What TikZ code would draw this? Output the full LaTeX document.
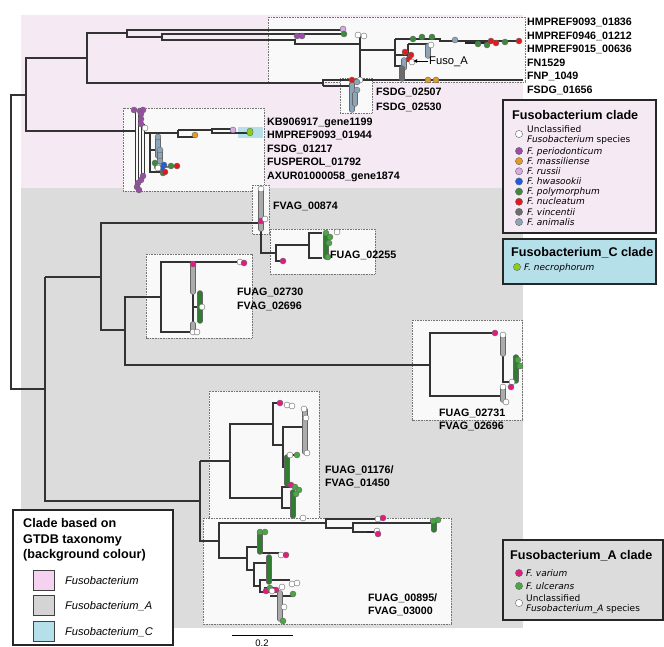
\documentclass[tikz,border=0pt]{standalone}
\usepackage{fontspec}
\setmainfont{Liberation Sans}
\newfontfamily\legfont{DejaVu Sans}
\usetikzlibrary{arrows.meta}
\definecolor{bgpink}{HTML}{F5EAF4}
\definecolor{bggray}{HTML}{DCDCDC}
\definecolor{bgcyan}{HTML}{B5E0EA}
\definecolor{swpink}{HTML}{F5D2EF}
\definecolor{swgray}{HTML}{D4D4D4}
\definecolor{boxfill}{HTML}{F9F9F9}
\definecolor{cperi}{HTML}{9A4DA6}
\definecolor{cmass}{HTML}{E39A22}
\definecolor{cruss}{HTML}{D9AAE4}
\definecolor{chwas}{HTML}{1C5BE6}
\definecolor{cpoly}{HTML}{3B8B3B}
\definecolor{cnucl}{HTML}{E4191C}
\definecolor{cvinc}{HTML}{6C6C6C}
\definecolor{canim}{HTML}{8DA5B8}
\definecolor{cnecr}{HTML}{8CCF1A}
\definecolor{cvari}{HTML}{E41A80}
\definecolor{culce}{HTML}{49A843}
\definecolor{cucol}{HTML}{2F7D2F}
\definecolor{cgrey}{HTML}{ABABAB}

\begin{document}
\begin{tikzpicture}[>=Latex,x=1pt,y=-1pt,
  br/.style={draw=black!80,line width=1.2pt},
  tipdot/.style={draw=black!60,line width=0.4pt},
  colbar/.style={draw=black!60,line width=0.5pt,double=#1,double distance=4.4pt,line cap=round},
  cladebox/.style={draw=black!55,dash pattern=on 1pt off 0.6pt,fill=boxfill,line width=0.7pt},
  legbox/.style={draw=black!85,line width=1.1pt},
  lbl/.style={anchor=west,inner sep=0pt,text height=7.7pt,text depth=0pt,font=\fontsize{10.7}{12}\selectfont\bfseries},
  legtitle/.style={anchor=west,inner sep=0pt,text height=9pt,text depth=0pt,font=\fontsize{12.6}{14}\selectfont\bfseries},
  legitem/.style={anchor=west,inner sep=0pt,text height=6.5pt,text depth=0pt,font=\legfont\fontsize{9}{10}\selectfont},
  gtdbitem/.style={anchor=west,inner sep=0pt,text height=8pt,text depth=0pt,font=\fontsize{11.1}{13}\selectfont\itshape}]
  \useasboundingbox (0,0) rectangle (664,647);
  % background colour of the GTDB clades
  \fill[bgpink] (21,15) rectangle (523,188);
  \fill[bggray] (21,188) rectangle (523,628);
  % collapsed sub-trees
  \foreach \xa/\ya/\xb/\yb in {268/17/525/82, 340/78/372/113, 123/108/264/191, 252/185/269/234,
      270/229/375/274, 146/254/252/338, 412/320/522/420, 209/391/319/518, 203/518/451/624}
    \filldraw[cladebox] (\xa,\ya) rectangle (\xb,\yb);
  \fill[bgcyan] (238,127) rectangle (263,138);

  % backbone
  \draw[br] (26,95) -- (11,95) -- (11,389) -- (45,389);
  \draw[br] (87,58) -- (26,58) -- (26,131) -- (136,131);
  % Fusobacterium part
  \draw[br] (127,33) -- (87,33) -- (87,83) -- (323,83);
  \draw[br] (343,30) -- (127,30) -- (127,37) -- (162,37);
  \draw[br] (343,34) -- (162,34) -- (162,40) -- (295,40) -- (295,44) -- (360,44);
  \draw[br] (323,86) -- (323,80) -- (523,80);
  \draw[br] (323,86) -- (350,86);
  \draw[br] (360,36) -- (360,80);
  \draw[br] (360,50) -- (395,50);
  \draw[br] (395,39) -- (395,66) -- (402,66);
  \draw[br] (395,39) -- (440,39) -- (440,41) -- (520,41);
  \draw[br] (395,55) -- (408,55);
  \draw[br] (408,44) -- (408,62);
  \draw[br] (408,44) -- (428,44);
  \draw[black!85,line width=2.2pt] (465,43) -- (492,43);
  \foreach \x/\ya/\yb in {135/111/188, 138/115/185, 141/119/181, 144/124/176}
    \draw[br,line width=0.9pt] (\x,\ya) -- (\x,\yb);
  \draw[br] (144,133) -- (178,133);
  \draw[br] (178,130) -- (178,137) -- (194,137);
  \draw[br] (178,130) -- (212,130);
  \draw[br] (233,129) -- (212,129) -- (212,133) -- (249,133);
  \draw[br] (150,133) -- (150,172) -- (165,172);
  \draw[br] (150,150) -- (158,150);
  \draw[br] (155,163) -- (155,168) -- (178,166);
  % Fusobacterium_A part
  \draw[br] (45,277) -- (45,501) -- (200,501);
  \draw[br] (45,277) -- (101,277);
  \draw[br] (259,223) -- (101,223) -- (101,330) -- (125,330);
  \draw[br] (161,297) -- (125,297) -- (125,365) -- (430,365);
  \draw[br] (238,262) -- (161,262) -- (161,332) -- (191,332);
  \draw[br] (193,293) -- (193,322);
  \draw[br] (193,307) -- (200,307);
  \draw[br] (261,231) -- (261,253) -- (276,253);
  \draw[br] (282,261) -- (276,261) -- (276,245) -- (309,245);
  \draw[br] (322,233) -- (309,233) -- (309,258) -- (322,258);
  \draw[br] (493,333) -- (430,333) -- (430,396) -- (500,396);
  \draw[br] (503,354) -- (503,382) -- (512,382);
  \draw[br] (273,424) -- (230,424) -- (230,498) -- (282,498);
  \draw[br] (200,461) -- (230,461);
  \draw[br] (200,461) -- (200,541) -- (219,541);
  \draw[br] (279,403) -- (273,403) -- (273,445) -- (283,445);
  \draw[br] (302,427) -- (283,427) -- (283,467) -- (287,467);
  \draw[br] (290,455) -- (297,455);
  \draw[br] (290,487) -- (282,487) -- (282,508) -- (290,508);
  \draw[br] (326,523) -- (219,523) -- (219,558) -- (247,558);
  \draw[br] (376,519) -- (326,519) -- (326,528) -- (353,528);
  \draw[br] (432,523) -- (353,523) -- (353,532) -- (375,532);
  \draw[black!85,line width=2.2pt] (367,532) -- (374,532);
  \draw[br] (258,547) -- (247,547) -- (247,570) -- (254,570);
  \draw[br] (260,553) -- (279,553);
  \draw[br] (266,563) -- (254,563) -- (254,586) -- (260,586);
  \draw[br] (290,580) -- (260,580) -- (260,592) -- (276,592);
  \draw[br] (264,588) -- (276,588);
  \draw[br] (270,596) -- (293,596);

  % collapsed columns of tips
  \foreach \xa/\ya/\xb/\yb/\c in {428/46/428/56/canim, 404/60/404/68/canim, 402/68/402/79/cvinc,
      352/84/352/110/canim, 355/94/355/104/canim, 158/137/158/156/canim, 160/151/160/162/canim,
      261/191/261/229/cgrey, 193/266/193/292/cgrey, 193/324/193/331/cgrey, 503/336/503/354/cgrey,
      503/389/503/400/cgrey, 305/410/305/452/cgrey, 280/593/280/619/cgrey,
      200/293/200/321/cucol, 326/235/326/257/cucol, 516/357/516/381/cucol, 287/457/287/484/cucol,
      293/492/293/516/cucol, 434/522/434/530/cucol, 260/534/260/552/cucol, 269/557/269/582/cucol}
    \draw[colbar=\c] (\xa,\ya) -- (\xb,\yb);

  % tips coloured by species
  \foreach \x/\y/\c in {343/29/cruss, 344/34/cpoly, 297/36/cperi, 302/36/cperi, 358/35/white, 364/36/white,
      360/80/white, 413/39/cpoly, 422/37/cpoly, 432/37/cpoly, 455/40/canim, 478/44/cpoly, 487/45/cpoly,
      505/42/cpoly, 491/41/cnucl, 496/43/cnucl, 519/41/cnucl, 405/52/cnucl, 411/55/cnucl, 409/59/cnucl,
      431/45/white, 412/62/white, 428/80/cmass, 436/80/cmass, 352/80/cnucl, 357/82/canim, 357/90/canim,
      134/110/cperi, 140/111/cperi, 143/110/cperi, 141/114/cperi, 141/119/cperi, 141/124/cperi,
      143/176/cperi, 141/180/cperi, 138/183/cperi, 137/187/cperi, 139/190/cperi, 145/128/white,
      195/135/cmass, 233/130/cruss, 158/137/canim, 160/150/canim, 160/161/canim, 155/163/cpoly,
      171/166/cpoly, 163/173/cpoly, 164/165/chwas, 162/168/chwas, 165/172/cnucl, 177/166/cnucl, 158/168/white}
    \filldraw[tipdot,fill=\c] (\x,\y) circle (3pt);
  \filldraw[tipdot,fill=cnecr] (250,132) ellipse (3.2pt and 4pt);
  \foreach \x/\y/\c in {261/189/white, 261/221/cvari, 265/219/white, 283/261/cvari, 326/233/culce,
      330/237/culce, 329/243/culce, 328/257/culce, 337/232/white, 193/264/cvari, 193/332/white,
      197/332/white, 202/307/white, 240/262/white, 244/263/cvari, 495/333/cvari, 503/335/white,
      512/382/white, 511/387/cvari, 520/366/culce, 518/360/culce, 503/387/white, 506/402/white,
      280/403/cvari, 287/405/white, 292/406/white, 304/409/white, 306/418/white, 307/453/white,
      290/455/white, 297/455/culce, 291/485/cvari, 295/487/culce, 299/490/culce, 296/494/culce,
      303/518/white, 378/519/white, 383/518/cvari, 433/521/culce, 438/520/culce, 377/531/white,
      378/534/cvari, 260/532/culce, 265/532/culce, 281/555/white, 286/555/cvari, 292/584/white,
      297/583/white, 266/591/cvari, 276/590/cvari, 270/588/culce, 293/594/culce, 282/587/white,
      284/607/white, 283/621/culce, 272/591/white}
    \filldraw[tipdot,fill=\c] (\x,\y) circle (3pt);

  % gene labels
  \foreach \t [count=\i] in {HMPREF9093\_01836, HMPREF0946\_01212, HMPREF9015\_00636, FN1529, FNP\_1049, FSDG\_01656}
    \node[lbl] (toplbl\i) at (527,{21.7+13.5*(\i-1)}) {\t};
  \foreach \t [count=\i] in {KB906917\_gene1199, HMPREF9093\_01944, FSDG\_01217, FUSPEROL\_01792, AXUR01000058\_gene1874}
    \node[lbl] (kblbl\i) at (267,{121.7+13.4*(\i-1)}) {\t};
  \node[lbl] (fsdga) at (376,92) {FSDG\_02507};
  \node[lbl] (fsdgb) at (376,107) {FSDG\_02530};
  \node[lbl] (fvag874) at (273,206) {FVAG\_00874};
  \node[lbl] (fuag2255) at (330,255) {FUAG\_02255};
  \node[lbl] (fuag2730) at (237,292) {FUAG\_02730};
  \node[lbl] (fvag2696) at (237,306) {FVAG\_02696};
  \node[lbl] (fuag2731) at (439,413) {FUAG\_02731};
  \node[lbl] (fvag2696b) at (439,426) {FVAG\_02696};
  \node[lbl] (fuag1176) at (325,470) {FUAG\_01176/};
  \node[lbl] (fvag1450) at (325,483) {FVAG\_01450};
  \node[lbl] (fuag895) at (368,598) {FUAG\_00895/};
  \node[lbl] (fvag3000) at (368,611) {FVAG\_03000};
  \coordinate (fusoAtip) at (413,61);
  \node[anchor=west,inner sep=0pt,text height=8pt,text depth=0pt,font=\fontsize{11.2}{13}\selectfont] (fusoA) at (429,61) {Fuso\_A};
  \draw[-{Latex[length=4pt,width=4pt]},line width=0.9pt] ([xshift=-1.5pt]fusoA.west) -- (fusoAtip);

  % scale bar
  \coordinate (sbl) at (232,635);
  \coordinate (sbr) at (293,635);
  \draw[line width=0.9pt] (sbl) -- (sbr);
  \node[inner sep=0pt,text height=6.8pt,text depth=0pt,font=\fontsize{9.5}{11}\selectfont] (sblbl) at (262,643) {0.2};

  % legend: Fusobacterium clade
  \filldraw[legbox,fill=bgpink] (503,100) rectangle (656,233);
  \node[legtitle] (fusotitle) at (512,115) {Fusobacterium clade};
  \filldraw[tipdot,fill=white] (519,134) circle (3.6pt);
  \node[legitem] (fusounc) at (527,129) {Unclassified};
  \node[legitem] (fusouncsp) at (527,139) {\itshape Fusobacterium\upshape\ species};
  \foreach \c/\t [count=\i] in {cperi/periodonticum, cmass/massiliense, cruss/russii, chwas/hwasookii,
      cpoly/polymorphum, cnucl/nucleatum, cvinc/vincentii, canim/animalis}{
    \pgfmathsetmacro{\yy}{151+10.15*(\i-1)}
    \filldraw[tipdot,fill=\c] (519,\yy) circle (3.6pt);
    \node[legitem] (fusoitem\i) at (527,\yy) {\itshape F. \t};
  }
  % legend: Fusobacterium_C clade
  \filldraw[legbox,fill=bgcyan] (503,239) rectangle (656,284);
  \node[legtitle] (fusoctitle) at (511,252) {Fusobacterium\_C clade};
  \filldraw[tipdot,fill=cnecr] (517,267) circle (3.6pt);
  \node[legitem] (fusocitem) at (524,267) {\itshape F. necrophorum};
  % legend: Fusobacterium_A clade
  \filldraw[legbox,fill=bggray] (503,540) rectangle (663,620);
  \node[legtitle] (fusoatitle) at (510,555) {Fusobacterium\_A clade};
  \filldraw[tipdot,fill=cvari] (519,573) circle (3.6pt);
  \node[legitem] (fusoaitem1) at (526,573) {\itshape F. varium};
  \filldraw[tipdot,fill=culce] (519,586) circle (3.6pt);
  \node[legitem] (fusoaitem2) at (526,586) {\itshape F. ulcerans};
  \filldraw[tipdot,fill=white] (519,603) circle (3.6pt);
  \node[legitem] (fusoaunc) at (526,598) {Unclassified};
  \node[legitem] (fusoauncsp) at (526,608) {\itshape Fusobacterium\_A\upshape\ species};
  % legend: background colour
  \filldraw[legbox,fill=white] (13,510) rectangle (173,645);
  \foreach \t [count=\i] in {Clade based on, GTDB taxonomy, (background colour)}
    \node[legtitle] (gtdbtitle\i) at (23,{523+15.5*(\i-1)}) {\t};
  \foreach \c/\t [count=\i] in {swpink/Fusobacterium, swgray/Fusobacterium\_A, bgcyan/Fusobacterium\_C}{
    \pgfmathsetmacro{\yy}{580+25.5*(\i-1)}
    \filldraw[draw=black!75,line width=0.9pt,fill=\c] (33,\yy-10) rectangle (54,\yy+10);
    \node[gtdbitem] (gtdbitem\i) at (65,\yy) {\t};
  }
\end{tikzpicture}
\end{document}
